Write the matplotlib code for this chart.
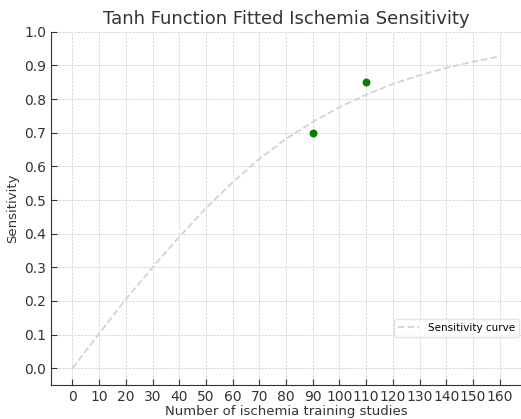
import numpy as np
import matplotlib
matplotlib.use("Agg")
import matplotlib.pyplot as plt

# fitted sensitivity curve, every 10 studies
curve_x = [0, 10, 20, 30, 40, 50, 60, 70, 80, 90, 100, 110, 120, 130, 140, 150, 160]
curve_y = [0.0, 0.103, 0.205, 0.30, 0.39, 0.476, 0.553, 0.622, 0.682, 0.732, 0.776, 0.813, 0.845, 0.871, 0.893, 0.911, 0.927]

# observed points
obs_x = [90, 110]
obs_y = [0.70, 0.85]

xticks = list(range(0, 161, 10))
yticks = [round(v * 0.1, 1) for v in range(11)]

plt.rcParams['font.family'] = ['DejaVu Sans']
fig = plt.figure(figsize=(5.21, 4.19), dpi=100)
ax = fig.add_axes([0.098, 0.081, 0.902, 0.843])

ax.plot(curve_x, curve_y, linestyle='--', color='#d3d3d3', linewidth=1.3, label='Sensitivity curve')
ax.scatter(obs_x, obs_y, color='green', s=22, zorder=3)

ax.set_xticks(xticks)
ax.set_yticks(yticks)
ax.set_xlim(-8, 168)
ax.set_ylim(-0.05, 1.0)
ax.grid(True, linestyle='--', linewidth=0.5, color='#cccccc')
ax.set_axisbelow(True)
for s in ['top', 'right']:
    ax.spines[s].set_visible(False)
for s in ['left', 'bottom']:
    ax.spines[s].set_color('#333333')
ax.tick_params(direction='in', colors='#333333', labelsize=10, length=4)
ax.set_title('Tanh Function Fitted Ischemia Sensitivity', fontsize=13, color='#333333')
ax.set_xlabel('Number of ischemia training studies', fontsize=9.5, color='#333333', labelpad=1)
ax.set_ylabel('Sensitivity', fontsize=9.5, color='#333333', labelpad=4)
ax.legend(loc='lower right', bbox_to_anchor=(1.0, 0.13), fontsize=7.5, borderaxespad=0.2,
          frameon=True, edgecolor='#dddddd')

fig.savefig('out.png', dpi=100)
